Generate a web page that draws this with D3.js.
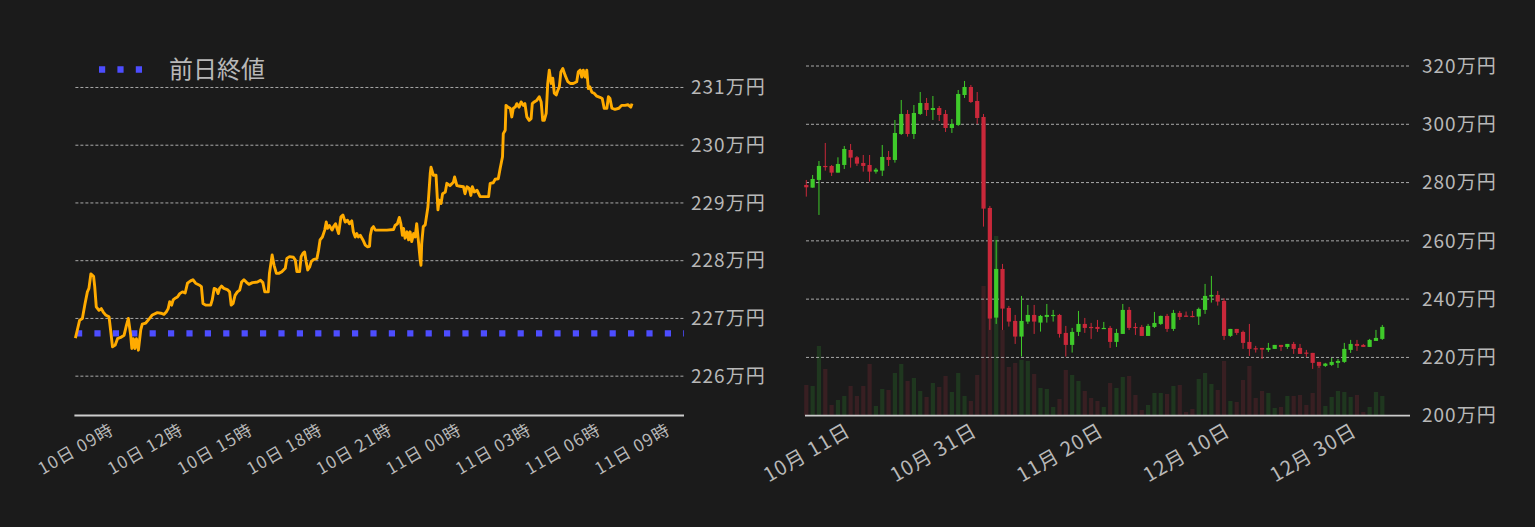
<!DOCTYPE html>
<html>
<head>
<meta charset="utf-8">
<script src="https://cdn.jsdelivr.net/npm/d3@7"></script>
<style>
  body { margin: 0; background: #1b1b1b; }
  svg { display: block; font-family: "Noto Sans CJK JP", "Noto Sans", sans-serif; }
</style>
</head>
<body>
<svg id="chart" width="1535" height="527"></svg>
<script>
// intraday (10日 09時 -> 11日 09時), [minutes from 09:00, price in 万円]
let intradayPoints = [
  [0,226.66],[5,226.80],[11,226.97],[18,227.00],[25,227.26],[31,227.46],[35,227.52],[40,227.77],[47,227.73],[50,227.55],
  [54,227.20],[61,227.14],[67,227.17],[72,227.11],[78,227.06],[87,227.03],[91,226.80],[96,226.51],[103,226.54],[109,226.65],
  [117,226.67],[126,226.71],[132,226.88],[137,227.00],[143,226.71],[146,226.48],[150,226.65],[154,226.48],[158,226.65],[163,226.45],
  [169,226.80],[173,226.90],[182,226.92],[192,227.00],[199,227.06],[212,227.10],[221,227.09],[229,227.07],[235,227.11],[240,227.17],
  [244,227.29],[249,227.23],[253,227.32],[258,227.35],[264,227.37],[270,227.43],[277,227.46],[284,227.44],[290,227.61],[298,227.65],
  [304,227.67],[311,227.61],[320,227.58],[326,227.55],[330,227.26],[337,227.23],[350,227.23],[354,227.32],[359,227.52],[365,227.50],
  [369,227.43],[373,227.52],[378,227.56],[384,227.52],[393,227.50],[399,227.46],[403,227.23],[408,227.26],[413,227.40],[419,227.46],
  [425,227.49],[430,227.63],[436,227.67],[442,227.63],[449,227.59],[458,227.62],[471,227.63],[479,227.66],[485,227.62],[490,227.46],
  [499,227.46],[502,227.78],[509,228.10],[514,227.92],[520,227.78],[526,227.78],[534,227.81],[543,227.87],[547,228.04],[554,228.07],
  [564,228.06],[569,228.01],[573,227.81],[580,227.81],[584,228.07],[589,228.13],[593,228.15],[597,227.98],[601,227.84],[606,227.89],
  [610,227.98],[616,228.02],[625,228.04],[629,228.18],[633,228.36],[639,228.41],[645,228.53],[649,228.67],[652,228.56],[657,228.61],
  [664,228.53],[668,228.59],[673,228.64],[681,228.47],[687,228.76],[692,228.79],[698,228.67],[704,228.70],[709,228.64],[715,228.69],
  [719,228.50],[724,228.41],[728,228.47],[732,228.41],[737,228.44],[744,228.36],[750,228.27],[756,228.24],[761,228.25],[763,228.44],
  [767,228.56],[771,228.59],[776,228.53],[789,228.53],[806,228.53],[823,228.54],[827,228.61],[833,228.64],[838,228.75],[842,228.64],
  [846,228.44],[849,228.56],[853,228.39],[858,228.50],[862,228.36],[866,228.50],[870,228.33],[875,228.47],[879,228.41],[883,228.64],
  [888,228.30],[892,228.01],[894,227.92],[896,228.30],[900,228.59],[905,228.62],[912,228.93],[918,229.51],[920,229.62],[926,229.48],
  [933,229.48],[938,228.88],[941,229.05],[946,228.99],[950,229.16],[957,229.19],[961,229.34],[969,229.30],[978,229.36],[981,229.45],
  [987,229.30],[995,229.29],[1004,229.28],[1008,229.16],[1013,229.28],[1019,229.25],[1023,229.13],[1027,229.28],[1032,229.19],[1039,229.22],
  [1047,229.11],[1060,229.11],[1069,229.11],[1073,229.34],[1081,229.35],[1086,229.41],[1094,229.42],[1099,229.60],[1105,229.80],[1107,230.20],
  [1112,230.26],[1114,230.69],[1119,230.66],[1125,230.64],[1129,230.49],[1133,230.64],[1138,230.66],[1142,230.72],[1148,230.66],[1153,230.75],
  [1159,230.69],[1163,230.72],[1168,230.49],[1174,230.43],[1179,230.46],[1182,230.72],[1187,230.75],[1194,230.78],[1200,230.84],[1205,230.75],
  [1209,230.43],[1213,230.43],[1218,230.55],[1222,231.07],[1226,231.30],[1231,231.07],[1235,231.16],[1239,230.90],[1244,230.87],[1248,230.95],
  [1252,231.01],[1256,231.27],[1261,231.33],[1267,231.21],[1274,231.10],[1280,231.07],[1288,231.07],[1297,231.10],[1301,231.27],[1306,231.30],
  [1310,231.18],[1314,231.30],[1319,231.18],[1323,231.30],[1327,230.98],[1331,231.01],[1336,230.92],[1342,230.90],[1349,230.85],[1357,230.83],
  [1363,230.81],[1368,230.64],[1375,230.64],[1379,230.84],[1383,230.81],[1388,230.64],[1396,230.62],[1406,230.64],[1413,230.69],[1422,230.69],
  [1430,230.70],[1437,230.66],[1440,230.72]
];
let previousClose = 226.74;
let intradayYTicks = [226, 227, 228, 229, 230, 231];

// daily candles from 2022-10-11 (万円)
let dailyOpen = [279.18,278.26,280.90,285.70,285.70,283.41,286.04,291.19,288.67,286.73,
  286.04,283.75,284.10,288.79,287.76,296.67,303.54,296.67,303.54,307.31,
  304.91,305.59,303.54,298.73,299.76,310.05,312.80,307.99,302.51,271.29,
  233.66,250.36,236.98,232.52,227.15,232.29,234.58,231.95,233.89,234.35,
  234.58,228.41,224.29,228.75,231.49,230.46,230.46,229.89,230.12,225.32,
  228.06,236.30,230.46,230.46,227.37,230.46,231.49,234.24,229.78,235.27,
  234.35,234.24,234.01,236.30,240.87,241.44,239.39,227.38,229.78,228.75,
  225.32,223.15,223.26,222.58,222.92,224.29,223.60,224.63,223.26,221.66,
  221.55,218.46,217.09,217.43,218.12,218.46,222.58,224.63,224.29,223.60,
  225.66,226.35];
let dailyHigh = [280.90,282.61,287.41,293.59,286.04,288.67,292.56,293.24,289.13,289.47,
  289.47,285.01,292.90,290.84,301.48,308.34,304.91,306.62,311.08,309.03,
  309.71,306.28,304.91,301.82,311.77,314.86,313.48,311.08,303.54,271.98,
  260.31,252.08,237.67,234.58,241.10,238.01,238.01,234.58,238.35,236.30,
  234.92,230.81,230.12,235.95,233.55,231.84,232.86,232.18,230.81,229.78,
  238.35,237.32,231.84,231.15,231.49,235.61,234.35,234.92,236.30,235.95,
  235.73,235.95,237.10,245.22,247.96,242.82,240.30,229.78,229.78,229.21,
  231.49,223.95,223.26,224.98,224.29,224.29,224.63,225.32,224.63,222.58,
  221.55,218.46,218.12,219.83,219.49,224.98,226.01,226.01,224.63,226.35,
  229.44,231.15];
let dailyLow = [275.18,278.26,268.89,284.10,282.27,283.41,284.67,285.12,285.70,283.75,
  280.32,283.07,282.27,285.70,286.84,296.33,295.76,294.96,303.19,302.85,
  301.48,301.13,297.36,297.02,299.42,309.03,307.31,300.11,264.89,229.44,
  231.49,229.43,230.58,224.63,220.29,231.49,228.06,228.86,231.95,232.29,
  226.80,220.29,221.66,227.37,228.41,226.35,228.75,229.89,223.26,223.60,
  228.06,229.43,227.72,227.37,227.37,230.12,231.15,228.75,229.09,232.86,
  233.90,233.78,231.15,234.93,238.81,237.78,226.01,227.03,227.72,222.92,
  220.52,221.66,219.49,221.89,222.92,222.23,222.92,221.20,221.20,220.18,
  216.06,216.40,216.74,217.09,216.40,218.12,221.55,222.23,223.60,223.60,
  225.66,226.01];
let dailyClose = [278.38,281.24,285.70,285.35,283.41,286.38,291.53,288.56,286.50,285.70,
  283.75,284.44,288.79,287.76,297.02,303.54,296.67,303.88,307.31,304.91,
  305.59,303.19,298.73,300.11,310.40,312.80,307.65,302.16,271.06,233.33,
  250.36,236.75,232.29,227.15,232.52,234.58,232.29,234.24,234.58,234.58,
  228.06,224.29,228.75,231.49,230.12,230.35,229.78,230.12,225.32,228.41,
  236.30,230.12,230.12,227.37,230.81,231.84,234.24,229.78,235.27,233.89,
  234.01,233.90,236.64,241.10,241.44,239.16,227.38,229.78,228.41,224.98,
  222.92,222.92,222.69,223.26,224.29,223.60,224.63,222.92,221.20,221.43,
  218.12,217.09,217.89,218.46,218.80,222.92,224.63,223.95,223.60,226.01,
  226.69,230.47];
let dailyVolume = [307,297,697,467,107,157,197,297,197,297,
  517,97,267,257,427,517,347,377,247,187,
  327,287,397,237,427,197,147,407,1297,1957,
  1797,857,487,527,557,547,417,277,267,87,
  167,457,407,347,247,177,147,87,327,277,
  387,397,207,57,107,227,227,217,297,307,
  37,67,367,427,317,257,547,147,137,357,
  497,177,247,227,77,87,197,197,207,107,
  227,497,97,187,247,237,187,207,37,87,
  237,197];
let dailyStart = "2022-10-11";
let dailyTickDates = ["2022-10-11", "2022-10-31", "2022-11-20", "2022-12-10", "2022-12-30"];
let dailyYTicks = [200, 220, 240, 260, 280, 300, 320];

let gridColor = "#a9a9a9";
let axisColor = "#cdcdcd";
let labelColor = "#b8b8b8";
let lineColor = "#ffab00";
let closeColor = "#4d4dff";
let upColor = "#3fca2a";
let downColor = "#c9283a";
let upVolColor = "#1f371f";
let downVolColor = "#381f22";

let svg = d3.select("#chart");
svg.append("rect").attr("width", 1535).attr("height", 527).attr("fill", "#1b1b1b");

drawIntraday(svg);
drawDaily(svg);

function drawIntraday(svg) {
  let left = 75.4, right = 684, lineEnd = 632, top = 41, bottom = 416;
  let t0 = new Date(2023, 0, 10, 9, 0);
  let t1 = new Date(2023, 0, 11, 9, 0);

  let x = d3.scaleTime().domain([t0, t1]).range([left, lineEnd]);
  let y = d3.scaleLinear().domain([225.31, 231.805]).range([bottom, top]);

  // grid + labels
  svg.append("g").selectAll("line")
    .data(intradayYTicks).enter()
    .append("line")
      .attr("x1", left).attr("x2", right)
      .attr("y1", d => y(d)).attr("y2", d => y(d))
      .style("stroke", gridColor)
      .style("stroke-width", 1)
      .style("stroke-dasharray", "3,2");

  svg.append("g").selectAll("text")
    .data(intradayYTicks).enter()
    .append("text")
      .attr("x", right + 7)
      .attr("y", d => y(d))
      .attr("dy", "0.35em")
      .text(d => d + "万円")
      .style("fill", labelColor)
      .style("font-size", "19px")
      .style("letter-spacing", "1px");

  // x axis
  let xAxis = d3.axisBottom(x)
    .tickValues(d3.timeHour.every(3).range(t0, d3.timeMinute.offset(t1, 1)))
    .tickFormat(d3.timeFormat("%d日 %H時"))
    .tickSize(0);
  let gx = svg.append("g")
    .attr("transform", "translate(0," + bottom + ")")
    .call(xAxis);
  gx.select(".domain").remove();
  gx.selectAll(".tick text")
    .attr("y", 0).attr("dy", "0.35em")
    .attr("transform", "translate(0,33) rotate(-30)")
    .style("text-anchor", "middle")
    .style("fill", labelColor)
    .style("font-size", "17px")
    .style("letter-spacing", "1.2px")
    .style("font-family", "'Noto Sans CJK JP', sans-serif");

  svg.append("line")
    .attr("x1", left - 1).attr("x2", right)
    .attr("y1", bottom - 0.5).attr("y2", bottom - 0.5)
    .style("stroke", axisColor)
    .style("stroke-width", 1.8);

  // previous close
  svg.append("line")
    .attr("x1", left + 0.6).attr("x2", right)
    .attr("y1", y(previousClose)).attr("y2", y(previousClose))
    .style("stroke", closeColor)
    .style("stroke-width", 6.3)
    .style("stroke-dasharray", "6.2,12.2");

  // price line
  let line = d3.line()
    .x(d => x(d3.timeMinute.offset(t0, d[0])))
    .y(d => y(d[1]));
  svg.append("path")
    .datum(intradayPoints)
    .attr("d", line)
    .style("fill", "none")
    .style("stroke", lineColor)
    .style("stroke-width", 2.9)
    .style("stroke-linejoin", "round");

  // legend
  svg.append("line")
    .attr("x1", 99).attr("x2", 143)
    .attr("y1", 69.5).attr("y2", 69.5)
    .style("stroke", closeColor)
    .style("stroke-width", 6.3)
    .style("stroke-dasharray", "6.2,12.2");
  svg.append("text")
    .attr("x", 169).attr("y", 69.5)
    .attr("dy", "0.36em")
    .text("前日終値")
    .style("fill", labelColor)
    .style("font-size", "24px");
}

function drawDaily(svg) {
  let left = 805, right = 1410, top = 66, bottom = 415.7;
  let start = d3.timeParse("%Y-%m-%d")(dailyStart);
  let dates = dailyOpen.map((d, i) => d3.timeDay.offset(start, i));
  let candles = dates.map((d, i) => ({
    date: d, open: dailyOpen[i], high: dailyHigh[i], low: dailyLow[i],
    close: dailyClose[i], volume: dailyVolume[i]
  }));

  let x = d3.scaleTime().domain([dates[0], dates[dates.length - 1]]).range([806.3, 1382.3]);
  let y = d3.scaleLinear().domain([200, 320]).range([bottom, top]);
  let vol = d3.scaleLinear().domain([0, 2000]).range([0, 200]);
  let bw = 4.2;
  let isUp = d => d.close >= d.open;

  // volume
  svg.append("g").selectAll("rect")
    .data(candles).enter()
    .append("rect")
      .attr("x", d => x(d.date) - bw / 2)
      .attr("width", bw)
      .attr("y", d => bottom - vol(d.volume))
      .attr("height", d => vol(d.volume))
      .attr("fill", d => isUp(d) ? upVolColor : downVolColor);

  // grid
  svg.append("g").selectAll("line")
    .data(dailyYTicks.filter(d => d > 200)).enter()
    .append("line")
      .attr("x1", left + 1).attr("x2", right)
      .attr("y1", d => y(d)).attr("y2", d => y(d))
      .style("stroke", gridColor)
      .style("stroke-width", 1)
      .style("stroke-dasharray", "3,2");

  svg.append("g").selectAll("text")
    .data(dailyYTicks).enter()
    .append("text")
      .attr("x", right + 12)
      .attr("y", d => y(d))
      .attr("dy", "0.35em")
      .text(d => d + "万円")
      .style("fill", labelColor)
      .style("font-size", "19px")
      .style("letter-spacing", "1px");

  // candles
  let g = svg.append("g");
  g.selectAll(".wick")
    .data(candles).enter()
    .append("line")
      .attr("class", "wick")
      .attr("x1", d => x(d.date)).attr("x2", d => x(d.date))
      .attr("y1", d => y(d.high)).attr("y2", d => y(d.low))
      .style("stroke", d => isUp(d) ? upColor : downColor)
      .style("stroke-width", 1);
  g.selectAll(".body")
    .data(candles).enter()
    .append("rect")
      .attr("class", "body")
      .attr("x", d => x(d.date) - bw / 2)
      .attr("width", bw)
      .attr("y", d => y(Math.max(d.open, d.close)))
      .attr("height", d => Math.max(1.2, Math.abs(y(d.open) - y(d.close))))
      .attr("fill", d => isUp(d) ? upColor : downColor);

  // x axis
  let xAxis = d3.axisBottom(x)
    .tickValues(dailyTickDates.map(d3.timeParse("%Y-%m-%d")))
    .tickFormat(d3.timeFormat("%-m月 %-d日"))
    .tickSize(0);
  let gx = svg.append("g")
    .attr("transform", "translate(0," + bottom + ")")
    .call(xAxis);
  gx.select(".domain").remove();
  gx.selectAll(".tick text")
    .attr("y", 0).attr("dy", "0.35em")
    .attr("transform", "translate(0,37) rotate(-30)")
    .style("text-anchor", "middle")
    .style("fill", labelColor)
    .style("font-size", "20px")
    .style("letter-spacing", "1px")
    .style("font-family", "'Noto Sans CJK JP', sans-serif");

  svg.append("line")
    .attr("x1", left).attr("x2", right)
    .attr("y1", bottom).attr("y2", bottom)
    .style("stroke", axisColor)
    .style("stroke-width", 1.8);
}
</script>
</body>
</html>
